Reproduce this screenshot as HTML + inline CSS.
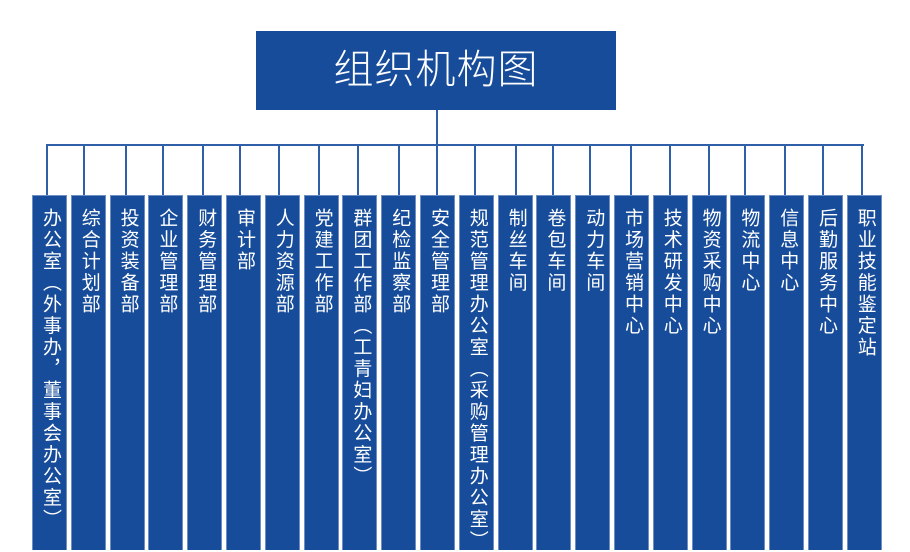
<!DOCTYPE html>
<html><head><meta charset="utf-8"><style>
body{margin:0;width:910px;height:550px;background:#fff;position:relative;overflow:hidden;font-family:"Liberation Sans","Noto Sans CJK SC",sans-serif}
.t{position:absolute;left:256px;top:31px;width:360px;height:79px;background:#174c9a;color:#fff;font-size:40px;font-weight:300;text-align:center;line-height:79px;letter-spacing:1px}
.l{position:absolute;background:#2e5fa8}
.b{position:absolute;top:195px;width:35px;height:355px;background:#174c9a;box-sizing:border-box;border:1px solid #6f8fc4;border-bottom:none}
.b span{position:absolute;left:7px;top:12px;writing-mode:vertical-rl;color:#fff;font-size:19px;letter-spacing:2.5px;line-height:20px}
</style></head><body>
<div class="t">组织机构图</div>
<div class="l" style="left:436px;top:110px;width:2px;height:36px"></div>
<div class="l" style="left:46px;top:144px;width:818px;height:2px"></div>
<div id="c"></div>
<script>
var n=["办公室（外事办，董事会办公室）","综合计划部","投资装备部","企业管理部","财务管理部","审计部","人力资源部","党建工作部","群团工作部（工青妇办公室）","纪检监察部","安全管理部","规范管理办公室（采购管理办公室）","制丝车间","卷包车间","动力车间","市场营销中心","技术研发中心","物资采购中心","物流中心","信息中心","后勤服务中心","职业技能鉴定站"];
var lx=[47,84,126,163,203,240,279,319,358,399,437,475,516,553,590,631,670,709,745,785,823,862];
var h="";
for(var i=0;i<22;i++){var x=32+i*38.8;
h+='<div class="l" style="left:'+(lx[i]-1)+'px;top:145px;width:2px;height:51px"></div>';
h+='<div class="b" style="left:'+x+'px"><span>'+n[i]+'</span></div>';}
document.getElementById("c").innerHTML=h;
</script>
</body></html>
